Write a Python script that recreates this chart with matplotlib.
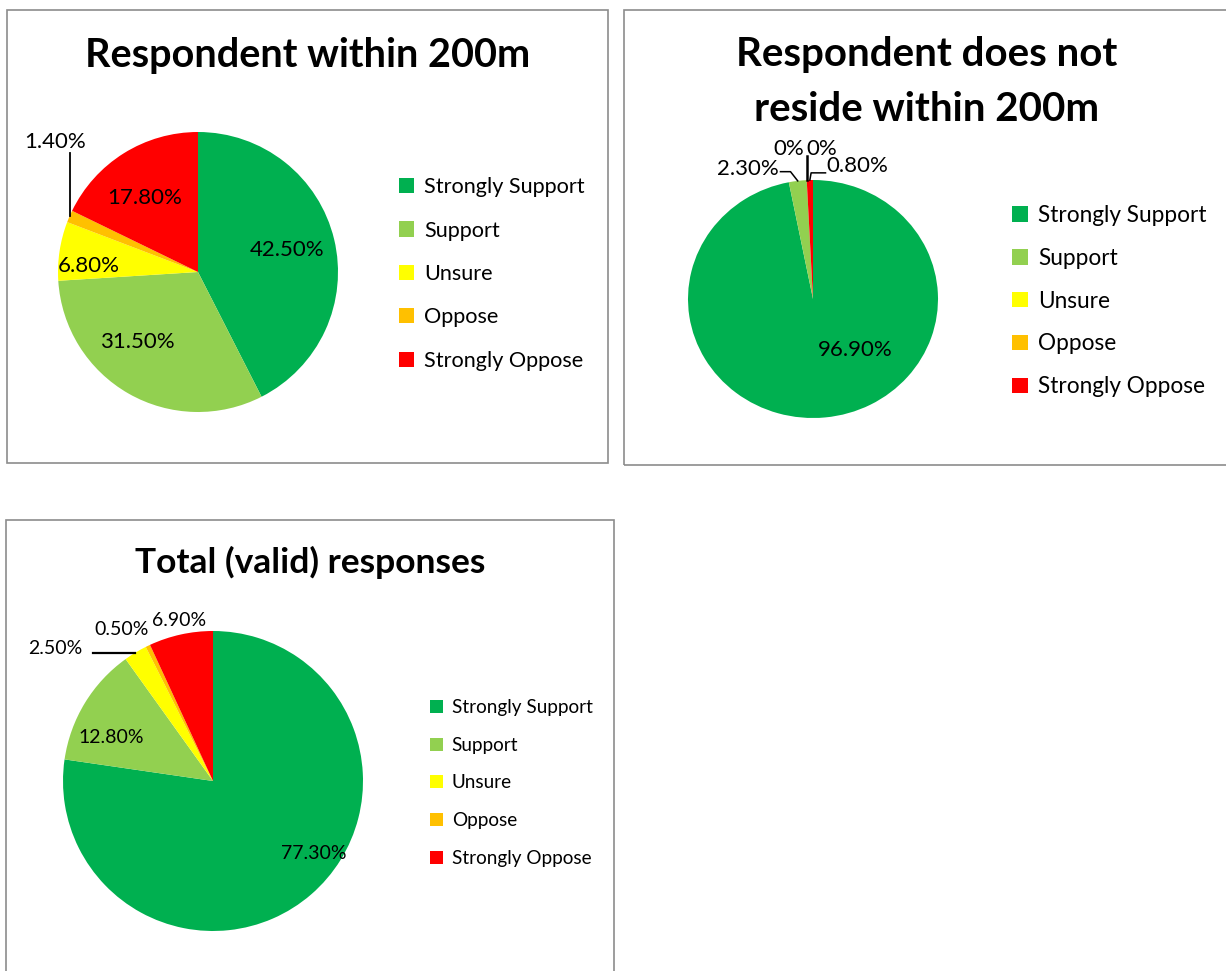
import numpy as np
import matplotlib
matplotlib.use("Agg")
import matplotlib.pyplot as plt
from matplotlib.patches import Rectangle

plt.rcParams['font.family'] = ['Lato', 'DejaVu Sans']

W, H = 1226, 971

categories = ['Strongly Support', 'Support', 'Unsure', 'Oppose', 'Strongly Oppose']
colors = ['#00B050', '#92D050', '#FFFF00', '#FFC000', '#FF0000']

within_200m = [42.5, 31.5, 6.8, 1.4, 17.8]
outside_200m = [96.9, 2.3, 0.0, 0.0, 0.8]
total_valid = [77.3, 12.8, 2.5, 0.5, 6.9]

titles = ['Respondent within 200m',
          'Respondent does not\nreside within 200m',
          'Total (valid) responses']


def fig_rect(x0, y0, x1, y1):
    # pixel box (top-left origin) -> figure fraction
    return [x0 / W, 1 - y1 / H, (x1 - x0) / W, (y1 - y0) / H]


def pie_axes(fig, cx, cy, rx, ry):
    ax = fig.add_axes(fig_rect(cx - rx, cy - ry, cx + rx, cy + ry))
    ax.axis('off')
    return ax


def wedge_point(w, r=1.0):
    ang = np.deg2rad((w.theta1 + w.theta2) / 2)
    return r * np.cos(ang), r * np.sin(ang)


def fmt(v):
    return '0%' if v == 0 else '%.2f%%' % v


def draw_pie(ax, values):
    wedges, _ = ax.pie(values, colors=colors, startangle=90, counterclock=False,
                       radius=1, wedgeprops=dict(linewidth=0))
    ax.set_xlim(-1, 1)
    ax.set_ylim(-1, 1)
    ax.set_aspect('auto')
    return wedges


fig = plt.figure(figsize=(W / 100, H / 100), dpi=100)

# panel frames
for (x0, y0, x1, y1) in [(7, 10, 608, 463), (624, 10, 1232, 465), (6, 520, 614, 975)]:
    fig.add_artist(Rectangle((x0 / W, 1 - y1 / H), (x1 - x0) / W, (y1 - y0) / H,
                             transform=fig.transFigure, fill=False,
                             edgecolor='#8c8c8c', linewidth=1.2))

# titles
fig.text(308 / W, 1 - 56 / H, titles[0], ha='center', va='center',
         fontsize=28.5, fontweight='bold')
fig.text(927 / W, 1 - 82 / H, titles[1], ha='center', va='center',
         fontsize=29, fontweight='bold', linespacing=1.6)
fig.text(310 / W, 1 - 562 / H, titles[2], ha='center', va='center',
         fontsize=25.5, fontweight='bold')

lab = 16
# ---- panel 1
ax1 = pie_axes(fig, 198, 272, 140, 140)
w1 = draw_pie(ax1, within_200m)
pos1 = [(0.636, 0.157), (-0.43, -0.5), (-0.78, 0.043), None, (-0.38, 0.53)]
for w, v, p in zip(w1, within_200m, pos1):
    if p is not None:
        ax1.text(p[0], p[1], fmt(v), ha='center', va='center', fontsize=lab)
ex, ey = wedge_point(w1[3])
ax1.plot([ex, ex], [ey, 0.85], color='black', lw=1.3, clip_on=False)
ax1.text(-1.02, 0.93, fmt(within_200m[3]), ha='center', va='center', fontsize=lab)

# ---- panel 2
ax2 = pie_axes(fig, 813, 299, 125, 119)
w2 = draw_pie(ax2, outside_200m)
ax2.text(0.34, -0.43, fmt(outside_200m[0]), ha='center', va='center', fontsize=lab)
# Support label
sx, sy = wedge_point(w2[1])
ax2.plot([-0.26, -0.18, sx], [1.07, 1.07, sy], color='black', lw=1.1, clip_on=False)
ax2.text(-0.27, 1.09, fmt(outside_200m[1]), ha='right', va='center', fontsize=lab)
# zero labels
ux, uy = wedge_point(w2[2])
ax2.plot([ux, ux], [uy, 1.20], color='black', lw=1.8, clip_on=False)
ax2.text(-0.19, 1.26, fmt(outside_200m[2]), ha='center', va='center', fontsize=lab)
ax2.text(0.07, 1.26, fmt(outside_200m[3]), ha='center', va='center', fontsize=lab)
# Strongly oppose label
rx_, ry_ = wedge_point(w2[4])
ax2.plot([rx_, rx_ + 0.01, 0.1], [ry_, 1.06, 1.06], color='black', lw=1.1, clip_on=False)
ax2.text(0.11, 1.12, fmt(outside_200m[4]), ha='left', va='center', fontsize=lab)

# ---- panel 3
lab3 = 14
ax3 = pie_axes(fig, 213, 781, 150, 150)
w3 = draw_pie(ax3, total_valid)
ax3.text(0.673, -0.48, fmt(total_valid[0]), ha='center', va='center', fontsize=lab3)
ax3.text(-0.68, 0.293, fmt(total_valid[1]), ha='center', va='center', fontsize=lab3)
yx, yy = wedge_point(w3[2])
ax3.plot([yx, -0.80], [yy, yy], color='black', lw=1.6, clip_on=False)
ax3.text(-1.053, 0.88, fmt(total_valid[2]), ha='center', va='center', fontsize=lab3)
ax3.text(-0.607, 1.007, fmt(total_valid[3]), ha='center', va='center', fontsize=lab3)
ax3.text(-0.225, 1.073, fmt(total_valid[4]), ha='center', va='center', fontsize=lab3)

# legends
legend_kw = dict(loc='center left', frameon=False, handlelength=0.7, handleheight=0.7,
                 handletextpad=0.45, borderpad=0, borderaxespad=0)
fig.legend(w1, categories, bbox_to_anchor=(399 / W, 1 - 274 / H), fontsize=15.6,
           labelspacing=1.08, **legend_kw)
fig.legend(w2, categories, bbox_to_anchor=(1012 / W, 1 - 301 / H), fontsize=16.3,
           labelspacing=0.97, **legend_kw)
fig.legend(w3, categories, bbox_to_anchor=(430 / W, 1 - 783 / H), fontsize=13.6,
           labelspacing=1.1, **legend_kw)

fig.savefig('out.png', dpi=100)
